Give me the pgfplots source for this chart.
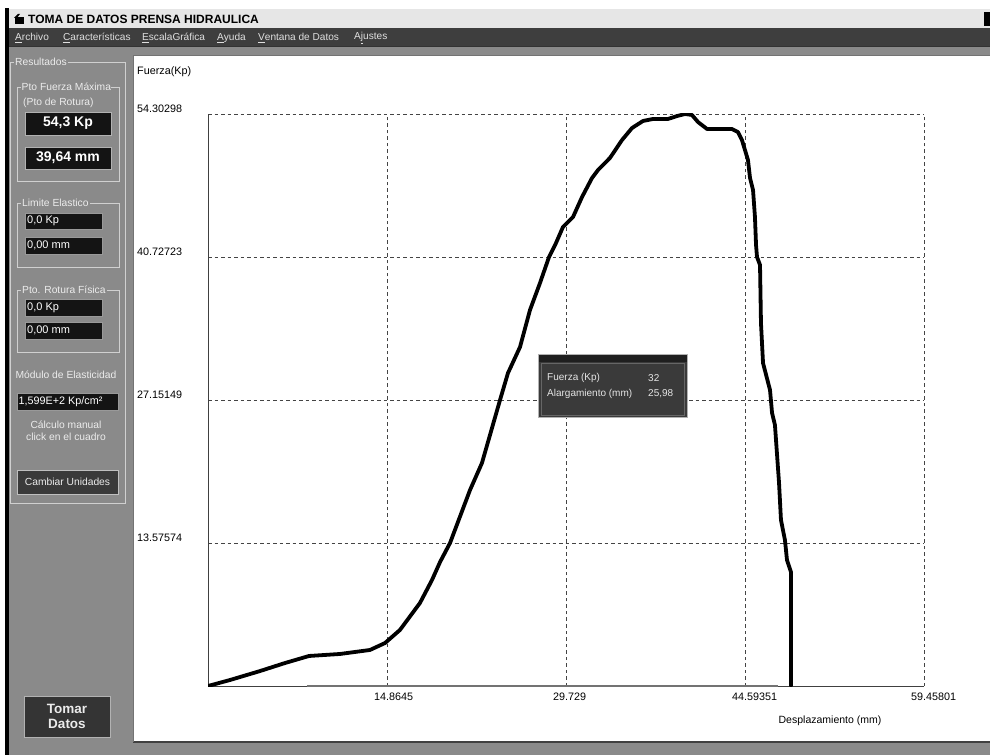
\documentclass[border=0pt]{standalone}
\usepackage{pgfplots}
\pgfplotsset{compat=1.18}
\usepackage{fontspec}
\setmainfont{Liberation Sans}
\definecolor{bodygray}{HTML}{8A8A8A}
\definecolor{menugray}{HTML}{3E3E3E}
\definecolor{titlegray}{HTML}{E6E6E6}
\definecolor{paneltext}{HTML}{ECECEC}
\definecolor{framecol}{HTML}{D0D0D0}
\definecolor{boxblack}{HTML}{141414}
\definecolor{btngray}{HTML}{3A3A3A}
\definecolor{gridcol}{HTML}{444444}

\pgfplotstableread{
x y
0 0
1.83 0.57
4.32 1.42
6.39 2.18
8.39 2.85
10.96 3.04
13.45 3.42
14.70 4.08
15.94 5.32
17.60 7.88
18.60 10.06
19.27 11.77
20.10 13.58
21.76 18.61
22.75 21.17
24.25 27.15
24.91 29.71
25.91 32.18
26.74 35.70
27.57 38.26
28.32 40.73
28.90 42.06
29.48 43.58
30.31 44.52
31.06 46.42
31.89 48.23
32.39 48.99
33.38 50.13
34.38 51.83
35.21 52.97
36.12 53.64
36.95 53.83
38.20 53.83
38.95 54.11
39.61 54.30
40.19 54.21
40.69 53.54
41.44 52.88
43.51 52.88
44.01 52.59
44.34 51.83
44.84 49.94
45.01 48.23
45.26 47.09
45.42 44.52
45.51 41.87
45.59 40.73
45.84 39.97
45.92 34.46
46.09 30.66
46.67 28.10
46.84 25.92
47.08 24.78
47.42 19.27
47.58 15.76
47.91 13.86
48.08 11.96
48.41 10.82
48.41 0
}\curvedata

\begin{document}
\begin{tikzpicture}[x=1pt,y=1pt,font=\fontsize{10.5}{12}\selectfont]
\path[use as bounding box] (0,0) rectangle (990,755);
\fill[white] (0,0) rectangle (990,755);
% window frame
\fill[black] (5,0) rectangle (9,747);
\fill[titlegray] (9,727) rectangle (990,746);
\fill[menugray] (9,708) rectangle (990,727);
\fill[bodygray] (9,0) rectangle (990,708);
\draw[black!80, line width=1pt] (9,708) -- (990,708);
\fill[black] (984,729) rectangle (990,743);
% title icon
\fill[black] (15,731) rectangle (24,738);
\fill[black] (14,737) -- (18,741) -- (20,741) -- (17,737) -- cycle;
\node[anchor=west, inner sep=0] at (28,735.5) {\bfseries\fontsize{12}{13}\selectfont TOMA DE DATOS PRENSA HIDRAULICA};
% menu
\begin{scope}[every node/.style={anchor=west, inner sep=0, text=white!88!black, font=\fontsize{10.1}{12}\selectfont}]
\node at (15,717) {\underline{A}rchivo};
\node at (63,717) {\underline{C}aracterísticas};
\node at (142,717) {\underline{E}scalaGráfica};
\node at (217,717) {\underline{A}yuda};
\node at (258,717) {\underline{V}entana de Datos};
\node at (354,717) {A\underline{j}ustes};
\end{scope}
% chart white panel
\fill[white] (133,13) rectangle (990,699);
\draw[black!75, line width=1.5pt] (133,13) -- (990,13);
\draw[black!55, line width=1pt] (133,13) -- (133,699) -- (990,699);

% left panel
\begin{scope}[every node/.style={inner sep=1pt, text=paneltext, font=\fontsize{10.3}{12}\selectfont}]
\draw[framecol, line width=0.8pt] (10,252) rectangle (125,693);
\node[anchor=west, fill=bodygray] at (14,693) {Resultados};
% box 1
\draw[framecol, line width=0.8pt] (17,574) rectangle (119,668);
\node[anchor=west, fill=bodygray, inner sep=0.5pt] at (21,668) {Pto Fuerza Máxima};
\node[anchor=west] at (22,652) {(Pto de Rotura)};
\filldraw[fill=boxblack, draw=white!70!black, line width=0.8pt] (25,620) rectangle (111,643);
\node[text=white, font=\bfseries\fontsize{14}{16}\selectfont] at (68,631.5) {54,3 Kp};
\filldraw[fill=boxblack, draw=white!70!black, line width=0.8pt] (25,586) rectangle (111,608);
\node[text=white, font=\bfseries\fontsize{14}{16}\selectfont] at (68,597) {39,64 mm};
% box 2
\draw[framecol, line width=0.8pt] (17,488) rectangle (119,552);
\node[anchor=west, fill=bodygray] at (21,552) {Limite Elastico};
\filldraw[fill=boxblack, draw=white!60!black, line width=0.8pt] (25,526) rectangle (102,542);
\node[anchor=west, text=white, font=\fontsize{11}{12}\selectfont] at (26,534) {0,0 Kp};
\filldraw[fill=boxblack, draw=white!60!black, line width=0.8pt] (25,501) rectangle (102,518);
\node[anchor=west, text=white, font=\fontsize{11}{12}\selectfont] at (26,509.5) {0,00 mm};
% box 3
\draw[framecol, line width=0.8pt] (17,403) rectangle (119,465);
\node[anchor=west, fill=bodygray] at (21,465) {Pto. Rotura Física};
\filldraw[fill=boxblack, draw=white!60!black, line width=0.8pt] (25,439) rectangle (102,456);
\node[anchor=west, text=white, font=\fontsize{11}{12}\selectfont] at (26,447.5) {0,0 Kp};
\filldraw[fill=boxblack, draw=white!60!black, line width=0.8pt] (25,416) rectangle (102,433);
\node[anchor=west, text=white, font=\fontsize{11}{12}\selectfont] at (26,424.5) {0,00 mm};
% modulo
\node at (66,380) {Módulo de Elasticidad};
\filldraw[fill=boxblack, draw=white!60!black, line width=0.8pt] (17,345) rectangle (118,362);
\node[anchor=west, text=white, font=\fontsize{10.8}{12}\selectfont] at (17.5,353.5) {1,599E+2 Kp/cm²};
\node at (66,330) {Cálculo manual};
\node at (66,318) {click en el cuadro};
\filldraw[fill=btngray, draw=white!75!black, line width=0.8pt] (17,261) rectangle (118,285);
\node at (67.5,273) {Cambiar Unidades};
% tomar datos
\filldraw[fill=btngray!90!black, draw=white!70!black, line width=1pt] (24,18) rectangle (110,59);
\node[text=white!92!black, font=\bfseries\fontsize{13.5}{15}\selectfont] at (67,46) {Tomar};
\node[text=white!92!black, font=\bfseries\fontsize{13.5}{15}\selectfont] at (67,31) {Datos};
\end{scope}

% chart
\begin{axis}[
  at={(208pt,69pt)}, anchor=south west,
  scale only axis, width=716pt, height=572pt,
  xmin=0, xmax=59.45801, ymin=0, ymax=54.30298,
  axis lines*=left,
  axis line style={black!75, line width=0.8pt},
  xtick={14.8645,29.729,44.59351,59.45801},
  xticklabels={14.8645,29.729,44.59351,59.45801},
  ytick={13.57574,27.15149,40.72723,54.30298},
  yticklabels={13.57574,27.15149,40.72723,54.30298},
  major tick length=0pt,
  grid=major,
  major grid style={gridcol, line width=0.8pt, dash pattern=on 3.5pt off 3pt},
  /pgf/number format/assume math mode=true,
  ticklabel style={inner sep=0pt, font=\fontsize{10.8}{12}\selectfont},
  xticklabel style={anchor=north west, xshift=-13pt, yshift=-7pt},
  yticklabel style={anchor=base west, xshift=-71pt, yshift=1.5pt},
]
\addplot[black!55, line width=1.6pt, forget plot] coordinates {(8.22,0) (47.33,0)};
\addplot[black, line width=3.8pt, line join=round, line cap=round] table[x=x, y=y] {\curvedata};
\end{axis}

\node[anchor=west, inner sep=0, font=\fontsize{10.8}{12}\selectfont] at (137,683) {Fuerza(Kp)};
\node[inner sep=0, font=\fontsize{10.5}{12}\selectfont] at (830,34) {Desplazamiento (mm)};

% tooltip
\filldraw[fill=btngray, draw=white!70!black, line width=1pt] (538,337) rectangle (687,400);
\fill[black!88] (538.5,393) rectangle (686.5,399.5);
\draw[black!60, line width=0.6pt] (541,340) rectangle (684,392);
\begin{scope}[every node/.style={anchor=west, inner sep=0, text=white!90!black, font=\fontsize{10}{11}\selectfont}]
\node at (547,377) {Fuerza (Kp)};
\node at (547,361) {Alargamiento (mm)};
\node at (648,377) {32};
\node at (648,361) {25,98};
\end{scope}
\end{tikzpicture}
\end{document}
